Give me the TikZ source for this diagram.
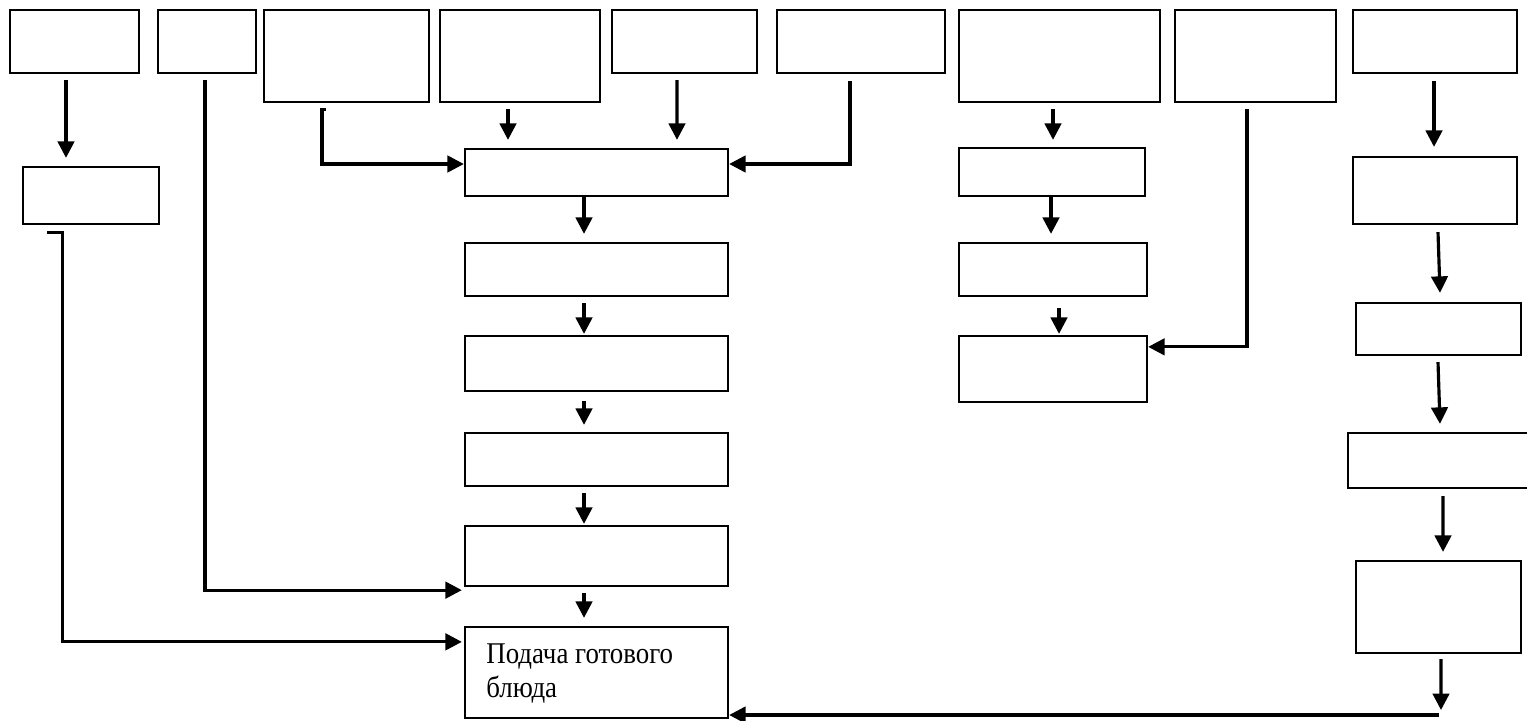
\documentclass[tikz,border=0pt]{standalone}
\usepackage{fontspec}
\setmainfont{Liberation Serif}
\usetikzlibrary{arrows.meta,fit,calc}
\tikzset{
  box/.style={draw=black, line width=1.3pt, inner sep=0pt, fill=none},
  conn/.style={draw=black, line width=1.8pt},
  arr/.style={conn, -{Triangle[length=0.33cm,width=0.33cm]}},
  lbl/.style={inner sep=0pt, align=left, font=\fontsize{15.3pt}{19.3pt}\selectfont}
}
\newcommand{\tallline}[1]{\scalebox{1}[1.12]{#1}}
\begin{document}
\begin{tikzpicture}[x=0.02cm,y=-0.02cm]
\useasboundingbox (0,0) rectangle (1527,720);
% top row
\node[box, fit={(10,10)(139,73)}] (b1) {};
\node[box, fit={(158,10)(256,73)}] (b2) {};
\node[box, fit={(264,10)(429,102)}] (b3) {};
\node[box, fit={(440,10)(600,102)}] (b4) {};
\node[box, fit={(612,10)(757,73)}] (b5) {};
\node[box, fit={(777,10)(945,73)}] (b6) {};
\node[box, fit={(959,10)(1160,102)}] (b7) {};
\node[box, fit={(1175,10)(1336,102)}] (b8) {};
\node[box, fit={(1353,10)(1517,73)}] (b9) {};
% left
\node[box, fit={(23,167)(159,224)}] (l1) {};
% center column
\node[box, fit={(465,149)(728,196)}] (c1) {};
\node[box, fit={(465,243)(728,296)}] (c2) {};
\node[box, fit={(465,336)(728,391)}] (c3) {};
\node[box, fit={(465,433)(728,486)}] (c4) {};
\node[box, fit={(465,526)(728,586)}] (c5) {};
\node[box, fit={(465,627)(728,718)}] (c6) {};
\node[lbl, anchor=base west] (t6) at (486,697) {\tallline{Подача готового}\\\tallline{блюда}};
% middle-right column
\node[box, fit={(959,148)(1145,196)}] (d1) {};
\node[box, fit={(959,243)(1147,296)}] (d2) {};
\node[box, fit={(959,336)(1147,402)}] (d3) {};
% right column
\node[box, fit={(1353,157)(1517,224)}] (e1) {};
\node[box, fit={(1356,303)(1521,355)}] (e2) {};
\node[box, fit={(1348,433)(1540,488)}] (e3) {};
\node[box, fit={(1356,561)(1521,653)}] (e4) {};
\coordinate (eout) at (1441,710);
\coordinate (bstart) at (1439,715);

% connectors
\draw[arr] ($(b1.south)+(-8.5,6)$) -- ($(l1.north)+(-25,-8)$);
\draw[arr] ($(b2.south)+(-2,6)$) |- ($(c5.south west)+(-2,3)$);
\draw[arr] ($(l1.south west)+(25,7)$) -- ($(l1.south west)+(41,7)$) |- ($(c6.north west)+(-2,16)$);
\draw[arr] ($(b3.south)+(-20.5,6)$) -- ($(b3.south)+(-24.5,6)$) |- ($(c1.west)+(0,-8.5)$);
\draw[arr] ($(b4.south)+(-12,6)$) -- ($(c1.north)+(-88.5,-8)$);
\draw[arr] ($(b5.south)+(-7.5,6)$) -- ($(c1.north)+(80.5,-8)$);
\draw[arr] ($(b6.south)+(-11,7)$) |- ($(c1.east)+(0,-8.5)$);
\draw[arr] ($(c1.south)+(-12.5,0)$) -- ($(c2.north)+(-12.5,-8)$);
\draw[arr] ($(c2.south)+(-12.5,6)$) -- ($(c3.north)+(-12.5,-1)$);
\draw[arr] ($(c3.south)+(-12.5,9)$) -- ($(c4.north)+(-12.5,-7)$);
\draw[arr] ($(c4.south)+(-12.5,6)$) -- ($(c5.north)+(-12.5,-1)$);
\draw[arr] ($(c5.south)+(-12.5,6)$) -- ($(c6.north)+(-12.5,-8)$);
\draw[arr] ($(b7.south)+(-6.5,6)$) -- ($(d1.north)+(1,-7)$);
\draw[arr] ($(d1.south)+(-1,0)$) -- ($(d2.north)+(-2,-8)$);
\draw[arr] ($(d2.south)+(6,11)$) -- ($(d3.north)+(6,-1)$);
\draw[arr] ($(b8.south)+(-8.5,6)$) |- ($(d3.north east)+(0,12)$);
\draw[arr] ($(b9.south)+(-1,7)$) -- ($(e1.north)+(-1,-9)$);
\draw[arr] ($(e1.south)+(3,7)$) -- ($(e2.north)+(1.5,-9)$);
\draw[arr] ($(e2.south)+(-0.5,6)$) -- ($(e3.north)+(-4,-8)$);
\draw[arr] ($(e3.south)+(-1,7)$) -- ($(e4.north)+(4.5,-8)$);
\draw[arr] ($(e4.south)+(2.5,5)$) -- (eout);
\draw[arr] (bstart) -- (c6.east |- bstart);
\end{tikzpicture}
\end{document}
